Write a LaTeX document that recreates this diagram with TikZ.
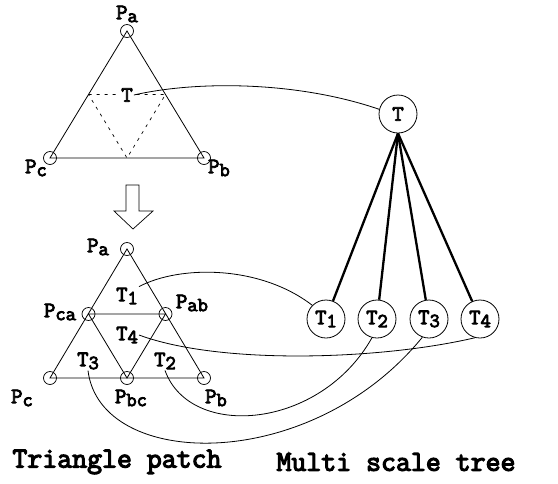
\documentclass[tikz,border=0pt]{standalone}
\usepackage{fontspec}
\newfontfamily\courb{Latin Modern Mono}[FakeBold=4]
\newcommand{\lbl}[2]{#1\raisebox{-3pt}{\fontsize{20}{20}\selectfont #2}}
\begin{document}
\begin{tikzpicture}[x=1pt,y=-1pt,
  font=\fontsize{22}{22}\selectfont\courb,
  vtx/.style={circle,draw,line width=0.7pt,minimum size=13pt,inner sep=0pt},
  tnode/.style={circle,draw,line width=0.8pt,minimum size=38pt,inner sep=0pt},
  tlab/.style={inner sep=1pt},
  edge/.style={line width=0.8pt},
  medial/.style={line width=0.7pt,dash pattern=on 3pt off 5pt},
  branch/.style={line width=2.3pt},
  link/.style={line width=0.8pt},
  caption/.style={font=\fontsize{29}{29}\selectfont\courb}]
\useasboundingbox (0,0) rectangle (558,483);

% coarse triangle
\node[vtx] (pa) at (127,31) {};
\node[vtx] (pc) at (50,158) {};
\node[vtx] (pb) at (204,158) {};
\draw[edge] (pa.center) -- (pb.center) -- (pc.center) -- cycle;
\coordinate (mca) at (88.5,94.5);
\coordinate (mab) at (165.5,94.5);
\coordinate (mbc) at (127,158);
\draw[medial] (mca) -- (mab) -- (mbc) -- cycle;
\node[tlab,fill=white] (tt) at (127,95) {T};
\node at (127,14) {\lbl{P}{a}};
\node at (36,168) {\lbl{P}{c}};
\node at (219,168) {\lbl{P}{b}};

% subdivision arrow
\draw[line width=0.7pt] (126,185) -- (139,185) -- (139,211) -- (153,211) -- (133,229)
  -- (114,211) -- (126,211) -- cycle;

% subdivided triangle
\node[vtx] (qa) at (127,249) {};
\node[vtx] (qc) at (50,378) {};
\node[vtx] (qb) at (204,378) {};
\node[vtx] (qca) at (88.5,314) {};
\node[vtx] (qab) at (165.5,314) {};
\node[vtx] (qbc) at (127,378) {};
\draw[edge] (qa.center) -- (qb.center) -- (qc.center) -- cycle;
\draw[edge] (qca.center) -- (qab.center) -- (qbc.center) -- cycle;
\node at (98,247) {\lbl{P}{a}};
\node at (60,312) {\lbl{P}{ca}};
\node at (192,303) {\lbl{P}{ab}};
\node at (22,398) {\lbl{P}{c}};
\node at (131,398) {\lbl{P}{bc}};
\node at (216,398) {\lbl{P}{b}};
\node[tlab] (t1) at (127,296) {\lbl{T}{1}};
\node[tlab] (t4) at (127,335) {\lbl{T}{4}};
\node[tlab] (t3) at (88,361) {\lbl{T}{3}};
\node[tlab] (t2) at (165,361) {\lbl{T}{2}};

% multi scale tree
\node[tnode] (T) at (398,114) {T};
\node[tnode] (T1) at (326,319) {\lbl{T}{1}};
\node[tnode] (T2) at (377,319) {\lbl{T}{2}};
\node[tnode] (T3) at (429,319) {\lbl{T}{3}};
\node[tnode] (T4) at (480,319) {\lbl{T}{4}};
\foreach \c in {T1,T2,T3,T4} \draw[branch] (T.south) -- (\c);

% correspondences between patches and tree nodes
\draw[link] (tt.east) .. controls (200,80) and (300,82) .. (T.166);
\draw[link] (t1.north east) .. controls (180,265) and (260,265) .. (T1.135);
\draw[link] (t4.east) .. controls (220,365) and (380,360) .. (T4.-105);
\draw[link] (t2.south) .. controls (190,440) and (320,430) .. (T2.-105);
\draw[link] (t3.south) .. controls (100,470) and (310,475) .. (T3.-110);

% captions
\node[caption] (cap1) at (117,462) {Triangle patch};
\node[caption] (cap2) at (396,462) {Multi scale tree};
\end{tikzpicture}
\end{document}
